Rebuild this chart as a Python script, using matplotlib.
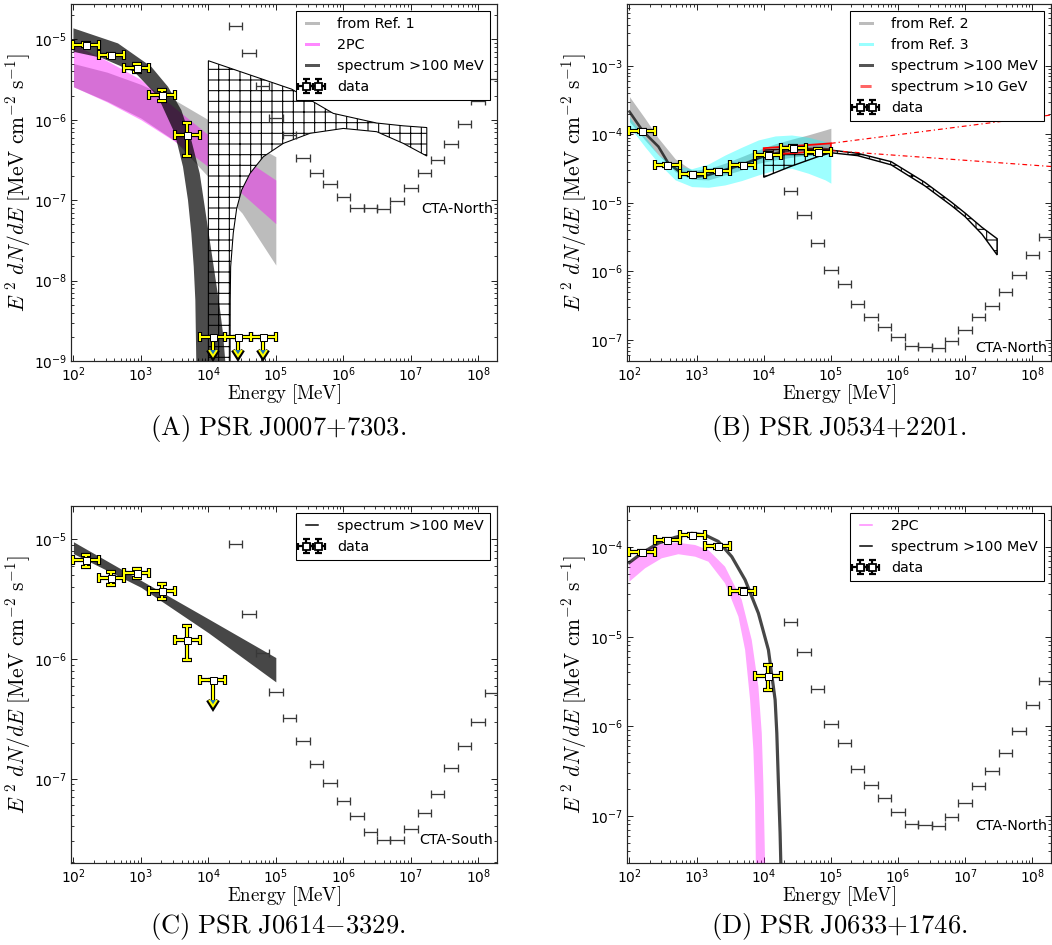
import numpy as np
import matplotlib
matplotlib.use("Agg")
import matplotlib.pyplot as plt
from matplotlib.lines import Line2D
from matplotlib.ticker import LogLocator, NullFormatter, FixedLocator

# ---------------------------------------------------------------- data
fermi_edges = [100, 237, 562, 1334, 3162, 7499, 17783, 42170, 100000]
cta_edges = [2.0e4, 3.16e4, 5.01e4, 7.94e4, 1.26e5, 2.0e5, 3.16e5, 5.01e5, 7.94e5,
             1.26e6, 2.0e6, 3.16e6, 5.01e6, 7.94e6, 1.26e7, 2.0e7, 3.16e7, 5.01e7,
             7.94e7, 1.26e8, 2.0e8]
cta_north = [1.47e-5, 6.7e-6, 2.62e-6, 1.06e-6, 6.45e-7, 3.37e-7, 2.19e-7, 1.57e-7,
             1.10e-7, 8.1e-8, 7.9e-8, 7.7e-8, 9.8e-8, 1.40e-7, 2.15e-7, 3.15e-7,
             4.99e-7, 8.8e-7, 1.71e-6, 3.2e-6]
cta_south = [9.1e-6, 2.36e-6, 1.13e-6, 5.27e-7, 3.2e-7, 2.07e-7, 1.33e-7, 9.3e-8,
             6.5e-8, 4.9e-8, 3.6e-8, 3.1e-8, 3.1e-8, 3.8e-8, 5.2e-8, 7.5e-8,
             1.24e-7, 1.88e-7, 3.0e-7, 5.2e-7]
x_ticks = [1e2, 1e3, 1e4, 1e5, 1e6, 1e7, 1e8]

# ---- Panel A: PSR J0007+7303
a_flux = [8.6e-6, 6.3e-6, 4.4e-6, 2.03e-6, 6.4e-7]
a_err_dn = [0.4e-6, 0.35e-6, 0.5e-6, 0.33e-6, 2.9e-7]
a_err_up = [0.4e-6, 0.35e-6, 0.5e-6, 0.34e-6, 2.8e-7]
a_ul = [2.0e-9, 2.0e-9, 2.0e-9]
a_band_e = [100, 316, 1000, 3162, 1.0e4, 3.16e4, 1.0e5]
a_ref1_hi = [5.0e-6, 3.9e-6, 2.75e-6, 1.76e-6, 1.0e-6, 5.9e-7, 3.47e-7]
a_ref1_lo = [2.57e-6, 1.7e-6, 1.05e-6, 5.5e-7, 1.95e-7, 6.9e-8, 1.56e-8]
a_2pc_hi = [8.7e-6, 5.4e-6, 3.16e-6, 1.41e-6, 6.5e-7, 3.4e-7, 1.78e-7]
a_2pc_lo = [2.57e-6, 1.66e-6, 1.0e-6, 5.4e-7, 2.6e-7, 1.2e-7, 5.1e-8]
a_fit_hi_e = [100, 458, 1426, 2523, 3972, 5585, 7447, 8831, 10470, 12420, 14720, 16480, 17820, 19500]
a_fit_hi = [1.37e-5, 8.9e-6, 4.56e-6, 2.57e-6, 1.32e-6, 5.6e-7, 2.15e-7, 8.3e-8, 3.2e-8,
            1.23e-8, 4.7e-9, 2.2e-9, 1.0e-9, 3.2e-10]
a_fit_lo_e = [100, 259, 809, 1795, 3170, 4207, 4989, 5585, 6067, 6412, 6622, 6760]
a_fit_lo = [7.0e-6, 5.9e-6, 3.9e-6, 1.93e-6, 6.8e-7, 2.6e-7, 1.0e-7, 3.9e-8, 1.5e-8,
            5.7e-9, 1.0e-9, 3.2e-10]
a_hatch_hi_e = [1.0e4, 1.72e5, 7.1e5, 3.13e6, 7.76e6, 1.73e7]
a_hatch_hi = [5.42e-6, 2.4e-6, 1.2e-6, 9.1e-7, 8.4e-7, 8.0e-7]
a_hatch_lo_e = [1.0e4, 2.09e4, 2.11e4, 2.14e4, 2.34e4, 2.63e4, 3.12e4, 4.14e4, 6.53e4,
                1.29e5, 3.21e5, 1.0e6, 3.13e6, 7.76e6, 1.73e7]
a_hatch_lo = [3.2e-10, 3.2e-10, 5.75e-9, 1.48e-8, 3.9e-8, 7.9e-8, 1.34e-7, 2.15e-7,
              3.47e-7, 5.08e-7, 6.78e-7, 7.8e-7, 7.1e-7, 5.08e-7, 3.54e-7]

# ---- Panel B: PSR J0534+2201
b_flux = [1.12e-4, 3.59e-5, 2.65e-5, 2.96e-5, 3.59e-5, 5.02e-5, 6.42e-5, 5.61e-5]
b_err = [4e-6, 1.5e-6, 1.0e-6, 1.0e-6, 1.5e-6, 2.5e-6, 4e-6, 5e-6]
b_band_e = [100, 170, 270, 480, 850, 1500, 2650, 4700, 8300, 14800, 26000, 46000, 82000, 100000]
b_ref2_hi = [3.56e-4, 1.72e-4, 8.8e-5, 4.4e-5, 3.0e-5, 3.16e-5, 3.8e-5, 4.74e-5, 5.94e-5,
             7.28e-5, 8.51e-5, 9.84e-5, 1.16e-4, 1.23e-4]
b_ref2_lo = [1.54e-4, 8.3e-5, 5.02e-5, 2.86e-5, 2.21e-5, 2.17e-5, 2.56e-5, 3.03e-5, 3.79e-5,
             4.25e-5, 4.63e-5, 5.02e-5, 5.31e-5, 5.43e-5]
b_ref3_hi = [1.78e-4, 9.3e-5, 5.0e-5, 3.5e-5, 3.16e-5, 3.7e-5, 5.0e-5, 6.5e-5, 8.3e-5,
             9.5e-5, 9.8e-5, 9.1e-5, 7.85e-5, 7.4e-5]
b_ref3_lo = [1.30e-4, 6.6e-5, 3.8e-5, 2.17e-5, 1.73e-5, 1.69e-5, 1.83e-5, 2.12e-5, 2.56e-5,
             3.03e-5, 3.2e-5, 2.71e-5, 2.17e-5, 1.94e-5]
b_fit_e = [100, 158, 270, 380, 601, 895, 1500, 2655, 4710, 8340, 11750, 26200, 65300, 100000]
b_fit = [2.15e-4, 1.12e-4, 6.64e-5, 3.79e-5, 2.71e-5, 2.37e-5, 2.56e-5, 3.03e-5, 3.59e-5,
         4.49e-5, 5.02e-5, 5.94e-5, 6.2e-5, 6.0e-5]
b_hatch_hi_e = [1.0e4, 3.16e4, 1.0e5, 2.5e5, 7.9e5, 2.5e6, 6.3e6, 1.0e7, 1.78e7, 3.0e7]
b_hatch_hi = [5.9e-5, 6.2e-5, 5.9e-5, 5.3e-5, 4.0e-5, 2.0e-5, 1.02e-5, 7.1e-6, 4.4e-6, 3.0e-6]
b_hatch_lo_e = [1.0e4, 2.5e4, 6.3e4, 1.0e5, 2.5e5, 7.9e5, 2.5e6, 6.3e6, 1.0e7, 1.78e7, 3.0e7]
b_hatch_lo = [2.37e-5, 3.4e-5, 4.7e-5, 5.4e-5, 4.9e-5, 3.6e-5, 1.78e-5, 9.1e-6, 6.3e-6, 3.5e-6, 1.74e-6]
b_red_e = [1.0e4, 1.0e5]
b_red_hi = [6.3e-5, 7.4e-5]
b_red_lo = [5.0e-5, 5.8e-5]
b_red_ext_e = [1.0e5, 2.0e8]
b_red_ext_hi = [7.4e-5, 1.93e-4]
b_red_ext_lo = [5.8e-5, 3.39e-5]

# ---- Panel C: PSR J0614-3329
c_flux = [6.7e-6, 4.77e-6, 5.26e-6, 3.7e-6, 1.44e-6]
c_err_dn = [0.8e-6, 0.62e-6, 0.46e-6, 0.55e-6, 0.46e-6]
c_err_up = [0.7e-6, 0.59e-6, 0.44e-6, 0.5e-6, 0.45e-6]
c_ul = [6.7e-7]
c_fit_e = [100, 1000, 1.0e4, 1.0e5]
c_fit_hi = [9.55e-6, 4.55e-6, 2.17e-6, 1.03e-6]
c_fit_lo = [7.6e-6, 3.98e-6, 1.66e-6, 6.45e-7]

# ---- Panel D: PSR J0633+1746
d_flux = [8.8e-5, 1.21e-4, 1.38e-4, 1.02e-4, 3.25e-5, 3.67e-6]
d_err_dn = [3e-6, 3e-6, 3e-6, 3e-6, 2e-6, 1.12e-6]
d_err_up = [3e-6, 3e-6, 3e-6, 3e-6, 2e-6, 1.17e-6]
d_fit_e = [100, 152, 269, 478, 847, 1337, 2113, 3342, 5284, 8337, 11750, 14790, 15670,
           16560, 17540, 18200]
d_fit = [6.76e-5, 8.57e-5, 1.11e-4, 1.29e-4, 1.43e-4, 1.37e-4, 1.16e-4, 7.85e-5, 4.32e-5,
         1.83e-5, 7.13e-6, 1.97e-6, 8.4e-7, 2.3e-7, 6.4e-8, 2.0e-8]
d_2pc_hi_e = [100, 171, 303, 536, 951, 1500, 2655, 4710, 6637, 8337, 9354, 9886, 10470, 10720]
d_2pc_hi = [6.6e-5, 9.33e-5, 1.09e-4, 1.12e-4, 1.06e-4, 9.33e-5, 6.07e-5, 2.58e-5, 9.2e-6,
            2.77e-6, 8.4e-7, 2.3e-7, 3.2e-8, 1.6e-8]
d_2pc_lo_e = [100, 171, 303, 536, 951, 1500, 2655, 4198, 5284, 6266, 7015, 7430, 7621, 7674]
d_2pc_lo = [4.13e-5, 5.82e-5, 7.53e-5, 8.36e-5, 7.85e-5, 6.9e-5, 3.96e-5, 1.68e-5, 7.13e-6,
            1.97e-6, 5.43e-7, 1.5e-7, 3.2e-8, 1.6e-8]

# ---------------------------------------------------------------- style
DPI = 128
W, H = 1052, 945
PT = 72.0 / DPI  # points per pixel

FS_TICK = 13.8 * PT
FS_LEG = 14.2 * PT
FS_XLAB = 18.9 * PT
FS_YLAB = 21.5 * PT
FS_CAP = 26.6 * PT

plt.rcParams.update({
    'font.family': ['DejaVu Sans'],
    'mathtext.fontset': 'dejavusans',
    'hatch.linewidth': 0.6,
    'axes.linewidth': 1.2 * PT,
    'axes.edgecolor': '0.15',
})

fig = plt.figure(figsize=(W / DPI, H / DPI), dpi=DPI)


def add_axes(l, r, t, b):
    return fig.add_axes([l / W, 1 - b / H, (r - l) / W, (b - t) / H])


def setup(ax, ylim, yticks):
    ax.set_xscale('log')
    ax.set_yscale('log')
    ax.set_xlim(92, 1.9e8)
    ax.set_ylim(*ylim)
    ax.xaxis.set_major_locator(FixedLocator(x_ticks))
    ax.yaxis.set_major_locator(FixedLocator(yticks))
    for axis in (ax.xaxis, ax.yaxis):
        axis.set_minor_locator(LogLocator(base=10, subs=np.arange(2, 10) * 1.0, numticks=300))
        axis.set_minor_formatter(NullFormatter())
    ax.tick_params(which='both', direction='in', top=True, right=True,
                   labelsize=FS_TICK, color='0.15')
    ax.tick_params(which='major', length=6 * PT, width=1.0 * PT, pad=4 * PT)
    ax.tick_params(which='minor', length=3 * PT, width=0.9 * PT)
    ax.set_xlabel(r'$\mathrm{Energy\ [MeV]}$', fontsize=FS_XLAB, math_fontfamily='cm',
                  labelpad=-1.0)
    ax.set_ylabel(r'$E^{\ 2}\ dN/dE\ [\mathrm{MeV\ cm^{-2}\ s^{-1}}]$', fontsize=FS_YLAB,
                  math_fontfamily='cm', labelpad=0.5)


def cta(ax, sens, name):
    e = np.array(cta_edges)
    c = np.sqrt(e[:-1] * e[1:])
    ax.errorbar(c, sens, xerr=[c - e[:-1], e[1:] - c], fmt='none', ecolor='0.22',
                elinewidth=1.3 * PT, capsize=4 * PT, capthick=1.3 * PT, zorder=5)
    ax.text(1.65e8, min(sens), name, ha='right', va='center', fontsize=FS_LEG, zorder=6)


def points(ax, flux, dn, up, n_ul=0, ul=None):
    e = np.array(fermi_edges, float)
    lo, hi = e[:-1], e[1:]
    c = np.sqrt(lo * hi)
    n = len(flux)
    sl = slice(0, n)
    xe = [c[sl] - lo[sl], hi[sl] - c[sl]]
    ax.errorbar(c[sl], flux, xerr=xe, yerr=[dn, up], fmt='none', ecolor='k',
                elinewidth=4.2 * PT, capsize=5 * PT, capthick=4.2 * PT, zorder=6)
    ax.errorbar(c[sl], flux, xerr=xe, yerr=[dn, up], fmt='none', ecolor='#ffff00',
                elinewidth=2.0 * PT, capsize=4.2 * PT, capthick=2.0 * PT, zorder=7)
    ax.plot(c[sl], flux, 's', mfc='white', mec='k', ms=7 * PT, mew=1.0 * PT, zorder=8)
    if n_ul:
        su = slice(n, n + n_ul)
        ul = np.array(ul)
        xe = [c[su] - lo[su], hi[su] - c[su]]
        ye = ul * 0.32
        ax.errorbar(c[su], ul, xerr=xe, yerr=ye, uplims=True, fmt='none', ecolor='k',
                    elinewidth=4.2 * PT, capsize=5 * PT, capthick=4.2 * PT, zorder=6)
        ax.errorbar(c[su], ul, xerr=xe, yerr=ye, uplims=True, fmt='none', ecolor='#ffff00',
                    elinewidth=2.0 * PT, capsize=4.2 * PT, capthick=2.0 * PT, zorder=7)
        ax.plot(c[su], ul, 's', mfc='white', mec='k', ms=7 * PT, mew=1.0 * PT, zorder=8)


def data_proxy(ax):
    return ax.errorbar([np.nan], [np.nan], xerr=[1.0], yerr=[1.0], fmt='s', color='k',
                       mfc='white', mec='k', ms=7 * PT, elinewidth=2.2 * PT,
                       capsize=3.5 * PT, capthick=2.2 * PT)


def legend(ax, handles, labels):
    leg = ax.legend(handles, labels, loc='upper right', fontsize=FS_LEG, numpoints=2,
                    fancybox=False, framealpha=1, edgecolor='k', borderaxespad=0.5,
                    handlelength=1.45, handletextpad=1.1, labelspacing=0.5,
                    borderpad=0.4)
    leg.get_frame().set_linewidth(0.6)
    leg.set_zorder(20)


def poly(ax, e_hi, f_hi, e_lo, f_lo, **kw):
    xs = list(e_hi) + list(e_lo)[::-1]
    ys = list(f_hi) + list(f_lo)[::-1]
    return ax.fill(xs, ys, **kw)


GRAY = '#bcbcbc'

# ---------------------------------------------------------------- Panel A
axA = add_axes(71, 497, 4, 361)
setup(axA, (1e-9, 2.75e-5), [1e-9, 1e-8, 1e-7, 1e-6, 1e-5])
axA.fill_between(a_band_e, a_ref1_lo, a_ref1_hi, color=GRAY, lw=0, zorder=1)
axA.fill_between(a_band_e, a_2pc_lo, a_2pc_hi, color='magenta', alpha=0.4, lw=0, zorder=2)
poly(axA, a_hatch_hi_e, a_hatch_hi, a_hatch_lo_e, a_hatch_lo, facecolor='white',
     edgecolor='k', hatch='++', lw=0.6, zorder=3)
poly(axA, a_fit_hi_e, a_fit_hi, a_fit_lo_e, a_fit_lo, color='k', alpha=0.7, lw=0, zorder=4)
cta(axA, cta_north, 'CTA-North')
points(axA, a_flux, a_err_dn, a_err_up, 3, a_ul)
hA = [Line2D([], [], color=GRAY, lw=3 * PT), Line2D([], [], color='#ff88ff', lw=3 * PT),
      Line2D([], [], color='#555555', lw=3 * PT), data_proxy(axA)]
legend(axA, hA, ['from Ref. 1', '2PC', 'spectrum >100 MeV', 'data'])

# ---------------------------------------------------------------- Panel B
axB = add_axes(627, 1051, 4, 361)
setup(axB, (4.93e-8, 8.0e-3), [1e-7, 1e-6, 1e-5, 1e-4, 1e-3])
axB.fill_between(b_band_e, b_ref2_lo, b_ref2_hi, color=GRAY, lw=0, zorder=1)
axB.fill_between(b_band_e, b_ref3_lo, b_ref3_hi, color='cyan', alpha=0.38, lw=0, zorder=2)
poly(axB, b_hatch_hi_e, b_hatch_hi, b_hatch_lo_e, b_hatch_lo, facecolor='none',
     edgecolor='k', hatch='++', lw=0.8, zorder=3)
axB.plot(b_fit_e, b_fit, color='k', alpha=0.7, lw=2.6 * PT, zorder=4)
axB.fill_between(b_red_e, b_red_lo, b_red_hi, color='red', alpha=0.2, lw=0, zorder=4)
poly(axB, b_red_e, b_red_hi, b_red_e, b_red_lo, facecolor='none', edgecolor='red',
     lw=1.8 * PT, zorder=4)
for f in (b_red_ext_hi, b_red_ext_lo):
    axB.plot(b_red_ext_e, f, color='red', lw=1.2 * PT, dashes=(4, 2.5, 1, 2.5), zorder=4)
cta(axB, cta_north, 'CTA-North')
points(axB, b_flux, b_err, b_err)
hB = [Line2D([], [], color=GRAY, lw=3 * PT), Line2D([], [], color='#99ffff', lw=3 * PT),
      Line2D([], [], color='#555555', lw=3 * PT),
      Line2D([], [], color='#ff6666', lw=3 * PT, ls='--'), data_proxy(axB)]
legend(axB, hB, ['from Ref. 2', 'from Ref. 3', 'spectrum >100 MeV', 'spectrum >10 GeV', 'data'])

# ---------------------------------------------------------------- Panel C
axC = add_axes(71, 497, 506, 863)
setup(axC, (1.98e-8, 1.9e-5), [1e-7, 1e-6, 1e-5])
axC.fill_between(c_fit_e, c_fit_lo, c_fit_hi, color='k', alpha=0.72, lw=0, zorder=4)
cta(axC, cta_south, 'CTA-South')
points(axC, c_flux, c_err_dn, c_err_up, 1, c_ul)
hC = [Line2D([], [], color='k', lw=1.5 * PT), data_proxy(axC)]
legend(axC, hC, ['spectrum >100 MeV', 'data'])

# ---------------------------------------------------------------- Panel D
axD = add_axes(627, 1051, 506, 863)
setup(axD, (2.97e-8, 2.89e-4), [1e-7, 1e-6, 1e-5, 1e-4])
poly(axD, d_2pc_hi_e, d_2pc_hi, d_2pc_lo_e, d_2pc_lo, color='magenta', alpha=0.35, lw=0,
     zorder=2)
axD.plot(d_fit_e, d_fit, color='k', alpha=0.72, lw=3.2 * PT, zorder=4)
cta(axD, cta_north, 'CTA-North')
points(axD, d_flux, d_err_dn, d_err_up)
hD = [Line2D([], [], color='#ff88ff', lw=1.5 * PT), Line2D([], [], color='k', lw=1.5 * PT),
      data_proxy(axD)]
legend(axD, hD, ['2PC', 'spectrum >100 MeV', 'data'])

# ---------------------------------------------------------------- captions
caps = [(278, 428, r'$\mathrm{(A)\ PSR\ J0007{+}7303.}$'),
        (839, 428, r'$\mathrm{(B)\ PSR\ J0534{+}2201.}$'),
        (278, 926, r'$\mathrm{(C)\ PSR\ J0614{-}3329.}$'),
        (839, 926, r'$\mathrm{(D)\ PSR\ J0633{+}1746.}$')]
for x, y, t in caps:
    fig.text(x / W, 1 - y / H, t, ha='center', va='center', fontsize=FS_CAP,
             math_fontfamily='cm')

fig.savefig('out.png', dpi=DPI)
